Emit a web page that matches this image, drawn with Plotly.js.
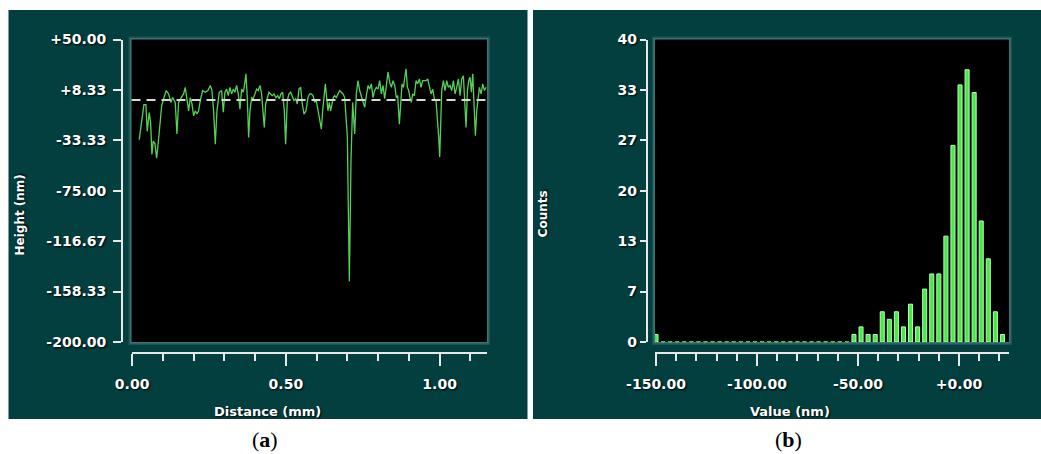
<!DOCTYPE html>
<html>
<head>
<meta charset="utf-8">
<script src="https://cdn.plot.ly/plotly-3.0.1.min.js"></script>
<style>html,body{margin:0;padding:0;background:#fff;}#chart{width:1041px;height:454px;}</style>
</head>
<body>
<div id="chart"></div>
<script>
// ---- Panel (a): height profile ----
const distanceMm = [
0.0231,0.0384,0.0449,0.0491,0.0556,0.0602,0.0644,0.0686,0.0742,0.0797,0.0849,0.0904,0.0960,0.1012,
0.1110,0.1186,0.1262,0.1316,0.1403,0.1457,0.1512,0.1598,0.1674,0.1728,0.1783,0.1837,0.1891,0.1945,0.1999,0.2054,0.2108,0.2162,0.2216,0.2292,0.2379,0.2466,0.2542,0.2596,0.2650,0.2704,0.2759,0.2834,
0.2910,0.2964,0.3019,0.3073,0.3127,0.3181,0.3236,0.3290,0.3344,0.3398,0.3452,0.3507,0.3561,0.3615,0.3669,0.3702,0.3745,0.3789,0.3832,0.3886,0.3940,0.3995,0.4049,0.4103,0.4157,0.4211,0.4266,0.4298,0.4342,0.4396,0.4450,0.4504,0.4558,0.4613,0.4678,0.4732,0.4786,0.4840,0.4895,0.4949,0.4992,0.5046,0.5101,0.5155,0.5209,0.5263,0.5318,0.5372,0.5426,0.5480,0.5534,0.5589,0.5654,0.5719,
0.5773,0.5827,0.5882,0.5936,0.5990,0.6044,0.6099,0.6153,0.6196,0.6240,0.6283,0.6326,0.6370,0.6413,0.6456,0.6500,0.6543,0.6587,0.6641,0.6695,0.6749,0.6803,0.6858,0.6912,0.6955,0.6999,0.7064,0.7118,0.7172,0.7237,0.7291,0.7345,0.7400,0.7454,0.7508,0.7562,0.7617,0.7671,0.7725,0.7779,0.7834,0.7888,0.7942,0.7996,0.8050,0.8105,0.8159,0.8213,0.8267,0.8322,0.8376,0.8430,0.8484,0.8539,0.8593,
0.8636,0.8690,0.8734,0.8777,0.8821,0.8864,0.8907,0.8951,0.8994,0.9037,0.9081,0.9124,0.9178,0.9233,0.9287,0.9341,0.9395,0.9449,0.9504,0.9558,0.9612,0.9666,0.9721,0.9775,0.9829,0.9883,0.9927,0.9970,1.0002,1.0035,1.0068,1.0122,1.0176,1.0230,1.0284,1.0339,1.0393,1.0447,1.0501,1.0556,1.0610,1.0664,1.0718,1.0772,1.0816,1.0859,1.0903,1.0946,1.0989,1.1033,1.1076,1.1120,1.1163,1.1206,1.1250,1.1293,1.1347,1.1401,1.1456,1.1510
];
const heightNm = [
-32.8,-3.8,-3.8,-25.9,-10.4,-18.7,-45,-34,-36,-48,-35.5,-19,-5,0,
7.8,5,-2,2,-2,-28,-2,2,5,10.5,2,-9,2,-3,-13,-9,-11.6,-9,-0.5,7.8,6.4,7.8,12,7.8,-9,-36.5,-9,6.4,
7.8,-10,6.4,9,3.6,10.5,5,9,6.4,12,5,-7.5,9,6.4,14.7,21.6,2,-31,-9,2,1,5,9,7.8,12,5,-11.6,-22.7,-3.3,2,6.4,5,3.6,5,2,3.6,1,5,6.4,-9,-36.5,-0.5,5,6.4,2,-0.5,1,-3.3,9,10.5,-3.3,-11.6,-9,2,
5,5,3.6,-2,-0.5,-7.5,-14.4,-24,-9,5,13.3,2,-9,-2,-9,-3.3,2,3.6,2,5,7.8,6.4,5,2,-17,-30,-150,-50,-2,-28,5,16,7.8,3.6,-2,-6,3.6,12,9,13.3,2,7.8,10.5,9,16,5,12,1,12,23,14.7,10.5,16,12,2,
3.6,-20,-3.3,13.3,10.5,17.4,25.8,10.5,7.8,2,-2,5,3.6,16,13.3,17.4,10.5,16,16,16,17.4,12,5,9,1,-0.5,-14.4,-31,-47,-11.6,7.8,16,7.8,16,10.5,12,7.8,16,5,10.5,17.4,3.6,17.4,20,2,-22.7,7.8,16,18.8,6.4,21.6,-11.6,-29.6,-9,2,10.5,5,13.3,7.8,10.5
];
const referenceLevelNm = 0;
const heightTickVals = [50, 8.33, -33.33, -75, -116.67, -158.33, -200];
const heightTickText = ['+50.00', '+8.33', '-33.33', '-75.00', '-116.67', '-158.33', '-200.00'];
const distanceTickVals = [0, 0.5, 1.0];
const distanceTickText = ['0.00', '0.50', '1.00'];

// ---- Panel (b): histogram ----
const binCenters = [-150,-146.5,-143,-139.5,-136,-132.5,-129,-125.5,-122,-118.5,-115,-111.5,-108,-104.5,-101,-97.5,-94,-90.5,-87,-83.5,-80,-76.5,-73,-69.5,-66,-62.5,-59,-55.5,-52,-48.5,-45,-41.5,-38,-34.5,-31,-27.5,-24,-20.5,-17,-13.5,-10,-6.5,-3,0.5,4,7.5,11,14.5,18,21.5];
const counts = [1,0,0,0,0,0,0,0,0,0,0,0,0,0,0,0,0,0,0,0,0,0,0,0,0,0,0,0,1,2,1,1,4,3,4,2,5,2,7,9,9,14,26,34,36,33,16,11,4,1];
const countTickVals = [0, 6.667, 13.333, 20, 26.667, 33.333, 40];
const countTickText = ['0', '7', '13', '20', '27', '33', '40'];
const valueTickVals = [-150, -100, -50, 0];
const valueTickText = ['-150.00', '-100.00', '-50.00', '+0.00'];

// ---- layout helpers (pixel -> paper) ----
const W = 1041, H = 454;
const PX = p => p / W, PY = p => 1 - p / H;
const TEAL = '#033f3f', AX = '#e8e8e8';
const tickFont = {family: 'DejaVu Sans', size: 14, color: '#ffffff', weight: 'bold', shadow: '1px 1px 2px #000'};
const titleFont = s => ({family: 'DejaVu Sans', size: s, color: '#ffffff', weight: 'bold', shadow: '1px 1px 2px #000'});

const zeroBins = binCenters.filter((b, i) => counts[i] === 0);

const traces = [
  {type: 'scatter', mode: 'lines', x: distanceMm, y: heightNm, xaxis: 'x', yaxis: 'y',
   line: {color: '#55d255', width: 1.3}, hoverinfo: 'skip'},
  {type: 'bar', x: binCenters, y: counts, xaxis: 'x2', yaxis: 'y2', width: 2.0,
   marker: {color: '#48e848', line: {color: '#b2ffb2', width: 1}}, hoverinfo: 'skip'},
  {type: 'scatter', mode: 'markers', x: zeroBins, y: zeroBins.map(() => 0), xaxis: 'x2', yaxis: 'y2',
   marker: {symbol: 'square', size: 2, color: '#3cc23c'}, cliponaxis: false, hoverinfo: 'skip'}
];

function xAxisCommon(dom, range, tv, tt, minorDt) {
  return {domain: dom, range: range, anchor: 'free', position: PY(353.3),
    showline: true, linecolor: AX, linewidth: 2, showgrid: false, zeroline: false,
    ticks: 'outside', ticklen: 12, tickwidth: 2, tickcolor: AX,
    tickmode: 'array', tickvals: tv, ticktext: tt, tickfont: tickFont, ticklabelstandoff: 6,
    minor: {tickmode: 'linear', tick0: 0, dtick: minorDt, ticks: 'outside', ticklen: 7, tickwidth: 2, tickcolor: AX, showgrid: false},
    fixedrange: true};
}
function yAxisCommon(dom, range, pos, tv, tt, len, standoff) {
  return {domain: dom, range: range, anchor: 'free', position: pos,
    showline: true, linecolor: AX, linewidth: 2, showgrid: false, zeroline: false,
    ticks: 'outside', ticklen: len, tickwidth: 2, tickcolor: AX,
    tickmode: 'array', tickvals: tv, ticktext: tt, tickfont: tickFont, ticklabelstandoff: standoff,
    fixedrange: true};
}

const yDom = [PY(342), PY(39.5)];
const leftX = [131.5, 487], rightX = [655, 1009];

function rect(x0, x1, y0, y1, color) {
  return {type: 'rect', xref: 'paper', yref: 'paper', x0: PX(x0), x1: PX(x1), y0: PY(y1), y1: PY(y0),
    fillcolor: color, line: {width: 0}, layer: 'below'};
}

const layout = {
  width: W, height: H, margin: {l: 0, r: 0, t: 0, b: 0},
  paper_bgcolor: '#ffffff', plot_bgcolor: 'rgba(0,0,0,0)', showlegend: false, bargap: 0,
  xaxis: xAxisCommon([PX(leftX[0]), PX(leftX[1])], [-0.002, 1.154], distanceTickVals, distanceTickText, 0.1),
  yaxis: yAxisCommon(yDom, [-200, 50], PX(122), heightTickVals, heightTickText, 8, 4),
  xaxis2: xAxisCommon([PX(rightX[0]), PX(rightX[1])], [-150.5, 24.75], valueTickVals, valueTickText, 10),
  yaxis2: yAxisCommon(yDom, [0, 40], PX(646.7), countTickVals, countTickText, 6, 0),
  shapes: [
    rect(8.5, 527.5, 10, 419, TEAL),
    rect(533, 1041, 10, 419, TEAL),
    rect(leftX[0] - 3, leftX[1] + 3, 39.5 - 3, 342 + 3, '#1c5552'),
    rect(leftX[0] - 1.5, leftX[1] + 1.5, 39.5 - 1.5, 342 + 1.5, '#3a7774'),
    rect(leftX[0], leftX[1], 39.5, 342, '#000000'),
    rect(rightX[0] - 3, rightX[1] + 3, 39.5 - 3, 342 + 3, '#1c5552'),
    rect(rightX[0] - 1.5, rightX[1] + 1.5, 39.5 - 1.5, 342 + 1.5, '#3a7774'),
    rect(rightX[0], rightX[1], 39.5, 342, '#000000'),
    {type: 'line', xref: 'x domain', yref: 'y', x0: 0, x1: 1, y0: referenceLevelNm, y1: referenceLevelNm,
     line: {color: '#d9d9d9', width: 2, dash: '9px,6px'}, layer: 'above'}
  ],
  annotations: [
    {text: 'Height (nm)', xref: 'paper', yref: 'paper', x: PX(19.5), y: PY(215), textangle: -90,
     showarrow: false, xanchor: 'center', yanchor: 'middle', font: titleFont(12)},
    {text: 'Distance (mm)', xref: 'paper', yref: 'paper', x: PX(267.8), y: PY(411),
     showarrow: false, xanchor: 'center', yanchor: 'middle', font: titleFont(13)},
    {text: 'Counts', xref: 'paper', yref: 'paper', x: PX(543.3), y: PY(214), textangle: -90,
     showarrow: false, xanchor: 'center', yanchor: 'middle', font: titleFont(12)},
    {text: 'Value (nm)', xref: 'paper', yref: 'paper', x: PX(790.3), y: PY(411),
     showarrow: false, xanchor: 'center', yanchor: 'middle', font: titleFont(13)},
    {text: '(<b>a</b>)', xref: 'paper', yref: 'paper', x: PX(265), y: PY(439),
     showarrow: false, xanchor: 'center', yanchor: 'middle', font: {family: 'Liberation Serif', size: 22, color: '#000'}},
    {text: '(<b>b</b>)', xref: 'paper', yref: 'paper', x: PX(788), y: PY(439),
     showarrow: false, xanchor: 'center', yanchor: 'middle', font: {family: 'Liberation Serif', size: 22, color: '#000'}}
  ]
};

Plotly.newPlot('chart', traces, layout, {displayModeBar: false, staticPlot: true});
</script>
</body>
</html>
